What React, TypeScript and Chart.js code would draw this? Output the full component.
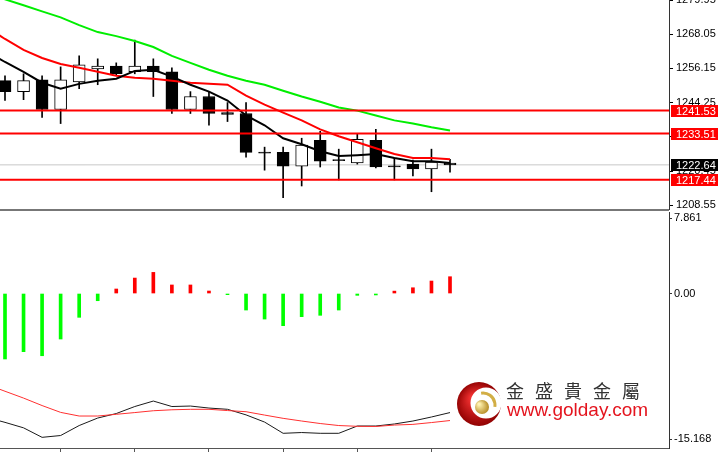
import React, { useEffect, useRef } from 'react';
import { Chart, registerables } from 'chart.js';
Chart.register(...registerables);

// ---- Candles (index 0..24) ----
const opens = [1251.9, 1248.1, 1252.2, 1241.9, 1251.5, 1256.0, 1257.0, 1255.0, 1257.0, 1255.0, 1241.9, 1246.4, 1240.8, 1240.5, 1227.1, 1227.0, 1222.2, 1231.2, 1224.5, 1223.3, 1231.2, 1222.3, 1222.9, 1221.2, 1223.3];
const highs = [1253.6, 1254.3, 1253.6, 1256.7, 1260.5, 1259.5, 1258.1, 1266.0, 1259.5, 1256.4, 1248.1, 1248.1, 1244.3, 1244.3, 1228.8, 1228.8, 1231.9, 1234.3, 1228.1, 1233.5, 1235.0, 1225.0, 1224.3, 1228.1, 1224.6];
const lows = [1245.0, 1245.3, 1239.1, 1237.0, 1249.1, 1250.5, 1253.9, 1254.3, 1246.4, 1240.5, 1240.5, 1236.4, 1237.7, 1225.3, 1220.8, 1211.2, 1215.3, 1221.9, 1217.4, 1222.9, 1221.6, 1217.4, 1218.8, 1213.3, 1220.1];
const closes = [1248.1, 1251.9, 1241.9, 1252.2, 1257.4, 1257.0, 1254.3, 1257.0, 1255.0, 1241.9, 1246.4, 1240.5, 1240.2, 1227.0, 1226.7, 1222.2, 1229.5, 1223.9, 1224.1, 1231.5, 1221.9, 1221.9, 1221.2, 1223.6, 1222.64];

// ---- Moving averages (index -1..24) ----
const maBlack = [1262.2, 1258.4, 1255.0, 1251.2, 1249.1, 1250.8, 1251.9, 1252.6, 1255.3, 1255.7, 1253.3, 1250.5, 1248.1, 1245.0, 1239.8, 1236.4, 1231.9, 1229.8, 1227.4, 1225.7, 1226.0, 1226.4, 1225.0, 1223.9, 1223.9, 1223.3];
const maRed = [1270.5, 1266.4, 1262.6, 1259.8, 1257.7, 1256.4, 1255.0, 1253.6, 1252.9, 1252.6, 1251.9, 1251.2, 1250.8, 1250.5, 1246.7, 1243.6, 1240.8, 1238.1, 1235.0, 1232.6, 1230.5, 1228.4, 1226.4, 1225.0, 1225.0, 1224.6];
const maGreen = [1282.5, 1280.2, 1278.1, 1276.0, 1273.9, 1271.2, 1268.8, 1267.4, 1265.7, 1263.6, 1260.5, 1258.1, 1255.7, 1253.6, 1251.9, 1250.5, 1248.4, 1246.4, 1244.6, 1242.6, 1241.5, 1239.8, 1238.1, 1237.0, 1235.7, 1234.6];

// ---- Price levels ----
const redLevels = [1241.53, 1233.51, 1217.44];
const currentPrice = 1222.64;
const priceTicks = [1279.95, 1268.05, 1256.15, 1244.25, 1232.35, 1220.45, 1208.55];

// ---- Lower indicator ----
const histogram = [-6.82, -6.06, -6.48, -4.74, -2.48, -0.75, 0.47, 1.61, 2.2, 0.89, 0.89, 0.26, -0.12, -1.72, -2.66, -3.35, -2.41, -2.27, -1.72, -0.19, -0.15, 0.25, 0.6, 1.3, 1.75];
const sigBlack = [-12.9, -13.42, -13.99, -14.98, -14.79, -13.75, -12.97, -12.5, -11.77, -11.2, -11.77, -11.72, -11.93, -12.06, -12.64, -13.39, -14.56, -14.48, -14.56, -14.56, -13.8, -13.8, -13.59, -13.28, -12.86, -12.4];
const sigRed = [-9.46, -10.18, -10.89, -11.67, -12.38, -12.76, -12.76, -12.58, -12.4, -12.21, -12.11, -12.06, -12.06, -12.19, -12.31, -12.66, -13.0, -13.28, -13.54, -13.75, -13.83, -13.85, -13.7, -13.63, -13.44, -13.23];
const lowerTicks = [7.861, 0, -15.168];
const lowerTickLabels = ['7.861', '0.00', '-15.168'];
const timeTickIdx = [3, 7, 11, 15, 19, 23];

const X_MIN = -0.2697;
const X_MAX = 35.811;
const AXIS_FONT = '"Liberation Sans", Arial, sans-serif';

const withLead = (arr: number[]) => arr.map((v, i) => ({ x: i - 1, y: v }));

export default function App() {
  const topRef = useRef<HTMLCanvasElement>(null);
  const botRef = useRef<HTMLCanvasElement>(null);

  useEffect(() => {
    const bodyColors = opens.map((o, i) => (closes[i] >= o ? '#ffffff' : '#000000'));
    const levelLine = (v: number) => [{ x: -2, y: v }, { x: 40, y: v }];

    const topPlugin = {
      id: 'topDeco',
      afterDraw(chart: any) {
        const ctx = chart.ctx;
        const ys = chart.scales.y;
        ctx.save();
        ctx.fillStyle = '#777777';
        ctx.fillRect(0, 209, 669, 2);
        const box = (v: number, bg: string) => {
          const y = ys.getPixelForValue(v);
          ctx.fillStyle = bg;
          ctx.fillRect(671, Math.round(y) - 6, 47, 12);
          ctx.fillStyle = '#ffffff';
          ctx.font = '11px ' + AXIS_FONT;
          ctx.textBaseline = 'middle';
          ctx.textAlign = 'left';
          ctx.fillText(v.toFixed(2), 676, Math.round(y) + 0.5);
        };
        redLevels.forEach((v) => box(v, '#ff0000'));
        box(currentPrice, '#000000');
        ctx.restore();
      },
    };

    const top = new Chart(topRef.current as HTMLCanvasElement, {
      type: 'bar',
      data: {
        datasets: [
          { type: 'line', data: levelLine(currentPrice), borderColor: '#c8c8c8', borderWidth: 1, pointRadius: 0, order: 9 } as any,
          { type: 'bar', data: lows.map((l, i) => ({ x: i, y: [l, highs[i]] })), backgroundColor: '#000000', barThickness: 1, grouped: false, order: 8 } as any,
          { type: 'bar', data: opens.map((o, i) => ({ x: i, y: [o, closes[i]] })), backgroundColor: bodyColors, borderColor: '#000000', borderWidth: 1, borderSkipped: false, barThickness: 12, grouped: false, order: 7 } as any,
          { type: 'line', data: withLead(maGreen), borderColor: '#00ee00', borderWidth: 2, pointRadius: 0, order: 6 } as any,
          { type: 'line', data: withLead(maRed), borderColor: '#ff0000', borderWidth: 2, pointRadius: 0, order: 5 } as any,
          { type: 'line', data: withLead(maBlack), borderColor: '#000000', borderWidth: 2, pointRadius: 0, order: 4 } as any,
          ...redLevels.map((v) => ({ type: 'line', data: levelLine(v), borderColor: '#ff0000', borderWidth: 2, pointRadius: 0, order: 1 } as any)),
        ],
      },
      options: {
        responsive: false,
        animation: false,
        layout: { padding: { left: 0, right: 0, top: 0, bottom: 2 } },
        plugins: { legend: { display: false }, tooltip: { enabled: false } },
        scales: {
          x: { type: 'linear', min: X_MIN, max: X_MAX, offset: false, display: false },
          y: {
            position: 'right',
            min: 1207.3,
            max: 1279.95,
            afterBuildTicks: (s: any) => { s.ticks = priceTicks.map((v) => ({ value: v })); },
            afterFit: (s: any) => { s.width = 49; s.paddingTop = 0; s.paddingBottom = 0; },
            ticks: { callback: (v: any) => Number(v).toFixed(2), color: '#000', font: { size: 11, family: AXIS_FONT }, padding: 3, autoSkip: false },
            grid: { drawOnChartArea: false, drawTicks: true, tickLength: 4, color: '#000' },
            border: { display: true, color: '#333' },
          },
        },
      } as any,
      plugins: [topPlugin],
    });

    const botPlugin = {
      id: 'logo',
      afterDraw(chart: any) {
        const ctx = chart.ctx;
        ctx.save();
        const oy = -211;
        const cx = 479, cy = 404 + oy;
        const g = ctx.createRadialGradient(cx - 6, cy - 6, 3, cx, cy, 23);
        g.addColorStop(0, '#f03030');
        g.addColorStop(1, '#8e0000');
        ctx.fillStyle = g;
        ctx.beginPath(); ctx.arc(cx, cy, 22, 0, Math.PI * 2); ctx.fill();
        ctx.fillStyle = '#ffffff';
        ctx.beginPath(); ctx.arc(cx + 7, cy - 1, 15.5, 0, Math.PI * 2); ctx.fill();
        ctx.strokeStyle = '#d2ae45';
        ctx.lineWidth = 3;
        ctx.beginPath(); ctx.arc(cx + 4, cy + 1, 12, -Math.PI * 0.55, Math.PI * 0.05); ctx.stroke();
        const gb = ctx.createRadialGradient(cx, cy, 1, cx + 2, cy + 3, 8);
        gb.addColorStop(0, '#fff2b0');
        gb.addColorStop(1, '#b48a22');
        ctx.fillStyle = gb;
        ctx.beginPath(); ctx.arc(cx + 3, cy + 3, 7, 0, Math.PI * 2); ctx.fill();
        const name = ['金', '盛', '貴', '金', '屬'];
        ctx.fillStyle = '#333333';
        ctx.font = '18px "Noto Sans CJK TC", "Noto Sans CJK SC", sans-serif';
        ctx.textBaseline = 'middle';
        ctx.textAlign = 'left';
        name.forEach((c, i) => ctx.fillText(c, 506 + i * 29, 391 + oy));
        ctx.fillStyle = '#e4141e';
        ctx.font = '19px "Liberation Sans", Arial, sans-serif';
        ctx.textBaseline = 'alphabetic';
        ctx.fillText('www.golday.com', 507, 416 + oy);
        ctx.restore();
      },
    };

    const bot = new Chart(botRef.current as HTMLCanvasElement, {
      type: 'bar',
      data: {
        datasets: [
          { type: 'bar', data: histogram.map((v, i) => ({ x: i, y: v })), backgroundColor: histogram.map((v) => (v >= 0 ? '#ff0000' : '#00ff00')), barThickness: 3, grouped: false, order: 3 } as any,
          { type: 'line', data: withLead(sigBlack), borderColor: '#1a1a1a', borderWidth: 1, pointRadius: 0, order: 2 } as any,
          { type: 'line', data: withLead(sigRed), borderColor: '#ff3030', borderWidth: 1, pointRadius: 0, order: 1 } as any,
        ],
      },
      options: {
        responsive: false,
        animation: false,
        layout: { padding: { left: 0, right: 0, top: 1, bottom: 0 } },
        plugins: { legend: { display: false }, tooltip: { enabled: false } },
        scales: {
          x: {
            type: 'linear', min: X_MIN, max: X_MAX, offset: false, position: 'bottom',
            afterBuildTicks: (s: any) => { s.ticks = timeTickIdx.map((v) => ({ value: v })); },
            afterFit: (s: any) => { s.height = 7; s.paddingLeft = 0; s.paddingRight = 0; },
            ticks: { display: false },
            grid: { drawOnChartArea: false, drawTicks: true, tickLength: 4, color: '#555', offset: false },
            border: { display: true, color: '#555' },
          },
          y: {
            position: 'right',
            min: -16.09,
            max: 8.49,
            afterBuildTicks: (s: any) => { s.ticks = lowerTicks.map((v) => ({ value: v })); },
            afterFit: (s: any) => { s.width = 49; s.paddingTop = 0; s.paddingBottom = 0; },
            ticks: { callback: (v: any) => lowerTickLabels[lowerTicks.indexOf(Number(v))] ?? '', color: '#000', font: { size: 11, family: AXIS_FONT }, padding: 2, autoSkip: false },
            grid: { drawOnChartArea: false, drawTicks: true, tickLength: 3, color: '#333' },
            border: { display: true, color: '#333' },
          },
        },
      } as any,
      plugins: [botPlugin],
    });

    return () => { top.destroy(); bot.destroy(); };
  }, []);

  return (
    <div style={{ position: 'fixed', left: 0, top: 0, width: 718, height: 455, background: '#fff', overflow: 'hidden' }}>
      <canvas ref={topRef} width={718} height={211} style={{ position: 'absolute', left: 0, top: 0, width: 718, height: 211 }} />
      <canvas ref={botRef} width={718} height={244} style={{ position: 'absolute', left: 0, top: 211, width: 718, height: 244 }} />
    </div>
  );
}
